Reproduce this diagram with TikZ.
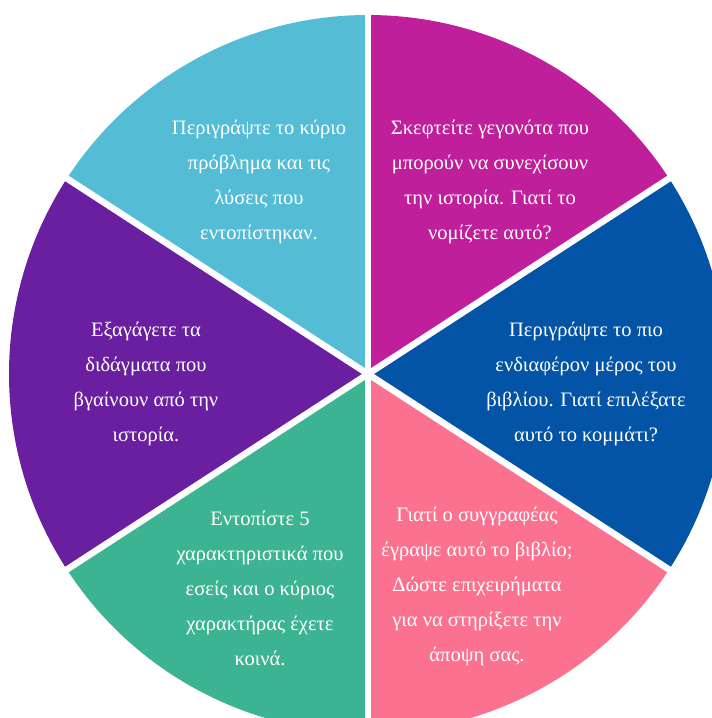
\documentclass[tikz,border=0pt]{standalone}
\usepackage{fontspec}
\setmainfont{Liberation Serif}
\definecolor{celeste}{HTML}{54BCD5}
\definecolor{magenta2}{HTML}{BF1F9A}
\definecolor{azul}{HTML}{0354A6}
\definecolor{rosa}{HTML}{FB7290}
\definecolor{verde}{HTML}{3CB491}
\definecolor{morado}{HTML}{6A1FA0}
\begin{document}
\begin{tikzpicture}[x=1pt,y=1pt, texto/.style={text=white, align=center, font=\fontsize{20.5}{35}\selectfont}]
\useasboundingbox (-368,-344) rectangle (344,374);
\coordinate (O) at (0,0);
% Sectores
\fill [celeste] (O) -- (90:359) arc [start angle=90, end angle=147, radius=359] -- cycle;
\fill [magenta2] (O) -- (33:359) arc [start angle=33, end angle=90, radius=359] -- cycle;
\fill [azul] (O) -- (-33:359) arc [start angle=-33, end angle=33, radius=359] -- cycle;
\fill [rosa] (O) -- (-90:359) arc [start angle=-90, end angle=-33, radius=359] -- cycle;
\fill [verde] (O) -- (213:359) arc [start angle=213, end angle=270, radius=359] -- cycle;
\fill [morado] (O) -- (147:359) arc [start angle=147, end angle=213, radius=359] -- cycle;
% Separadores
\draw [white, line width=6.5] (O) -- (90:400);
\draw [white, line width=6.5] (O) -- (33:400);
\draw [white, line width=6.5] (O) -- (-33:400);
\draw [white, line width=6.5] (O) -- (-90:400);
\draw [white, line width=6.5] (O) -- (213:400);
\draw [white, line width=6.5] (O) -- (147:400);
% Textos
\node [texto] (problema) at (-109,192) {Περιγράψτε το κύριο\\πρόβλημα και τις\\λύσεις που\\εντοπίστηκαν.};
\node [texto] (gegonota) at (122,192) {Σκεφτείτε γεγονότα που\\μπορούν να συνεχίσουν\\την ιστορία. Γιατί το\\νομίζετε αυτό?};
\node [texto] (meros) at (218,-10) {Περιγράψτε το πιο\\ενδιαφέρον μέρος του\\βιβλίου. Γιατί επιλέξατε\\αυτό το κομμάτι?};
\node [texto] (didagmata) at (-222,-10) {Εξαγάγετε τα\\διδάγματα που\\βγαίνουν από την\\ιστορία.};
\node [texto] (xaraktiristika) at (-108,-214) {Εντοπίστε 5\\χαρακτηριστικά που\\εσείς και ο κύριος\\χαρακτήρας έχετε\\κοινά.};
\node [texto] (syggrafeas) at (109,-212) {Γιατί ο συγγραφέας\\έγραψε αυτό το βιβλίο;\\Δώστε επιχειρήματα\\για να στηρίξετε την\\άποψη σας.};
\end{tikzpicture}
\end{document}
